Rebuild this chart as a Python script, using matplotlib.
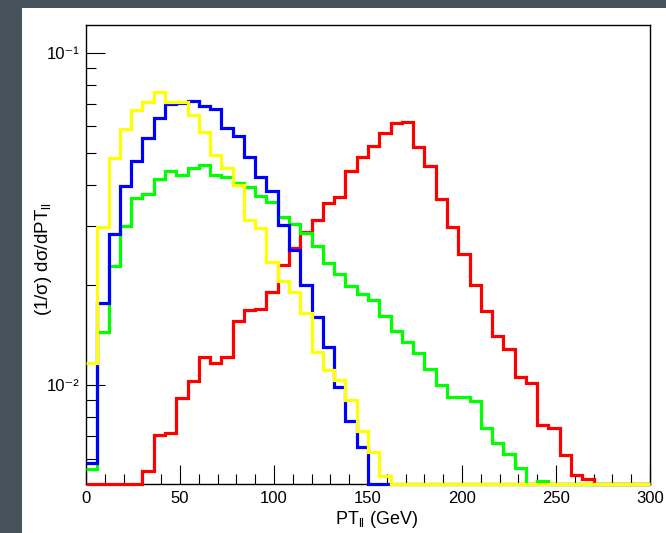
import numpy as np
import matplotlib
matplotlib.use("Agg")
import matplotlib.pyplot as plt
from matplotlib.patches import Rectangle
from matplotlib.ticker import LogLocator, MultipleLocator, NullFormatter

# binning: 50 bins of 6 GeV from 0 to 300
edges = np.linspace(0, 300, 51)

# normalised PT_ll distributions, one value per bin
red = [0, 0, 0, 0, 0, 0.00552, 0.00707, 0.00716, 0.00912, 0.01028,
       0.01212, 0.01167, 0.01212, 0.01561, 0.01681, 0.01693, 0.01906, 0.02297, 0.02584, 0.02892,
       0.03137, 0.03522, 0.03687, 0.04406, 0.04844, 0.05214, 0.05721, 0.06133, 0.06159, 0.05193,
       0.04560, 0.03620, 0.02995, 0.02479, 0.02000, 0.01673, 0.01405, 0.01283, 0.01059, 0.01012,
       0.00758, 0.00741, 0.00615, 0.00536, 0.00520, 0, 0, 0, 0, 0]
green = [0.00559, 0.01446, 0.0228, 0.0301, 0.0364, 0.0376, 0.0416, 0.0441, 0.0429, 0.0449,
         0.0459, 0.0429, 0.0422, 0.0406, 0.0394, 0.0371, 0.0356, 0.0321, 0.0305, 0.0286,
         0.0261, 0.0233, 0.0216, 0.0198, 0.0187, 0.0180, 0.01613, 0.01457, 0.01350, 0.01245,
         0.01115, 0.0100, 0.00922, 0.00916, 0.00891, 0.00741, 0.00668, 0.00620, 0.00562, 0,
         0.00512, 0, 0, 0, 0, 0, 0, 0, 0, 0]
blue = [0.00582, 0.01762, 0.02847, 0.03953, 0.0473, 0.0553, 0.0635, 0.0699, 0.0707, 0.0717,
        0.0691, 0.0676, 0.0592, 0.0559, 0.0486, 0.0423, 0.0382, 0.0303, 0.0255, 0.0200,
        0.01605, 0.01304, 0.00988, 0.00776, 0.00652, 0, 0, 0, 0, 0,
        0, 0, 0, 0, 0, 0, 0, 0, 0, 0,
        0, 0, 0, 0, 0, 0, 0, 0, 0, 0]
yellow = [0.01162, 0.02995, 0.0483, 0.0588, 0.0672, 0.0709, 0.0758, 0.0712, 0.0710, 0.0650,
          0.0578, 0.0492, 0.0449, 0.0400, 0.0314, 0.0296, 0.0235, 0.0205, 0.0190, 0.01644,
          0.01259, 0.01109, 0.01035, 0.00901, 0.00724, 0.00630, 0.00530, 0, 0, 0,
          0, 0, 0, 0, 0, 0, 0, 0, 0, 0,
          0, 0, 0, 0, 0, 0, 0, 0, 0, 0]

series = [(red, "#ff0000"), (green, "#00ff00"), (blue, "#0000ff"), (yellow, "#ffff00")]

ymin, ymax = 0.00503, 0.121

plt.rcParams["font.family"] = ["Liberation Sans Narrow", "Liberation Sans", "DejaVu Sans"]
plt.rcParams["mathtext.fontset"] = "custom"
plt.rcParams["mathtext.rm"] = "Liberation Sans"
plt.rcParams["mathtext.it"] = "Liberation Sans:italic"
plt.rcParams["mathtext.bf"] = "Liberation Sans:bold"

fig = plt.figure(figsize=(6.66, 5.33), dpi=100)
fig.patch.set_facecolor("#47535a")
# white canvas inside the dark frame
fig.patches.append(Rectangle((22 / 666, 0), 1, 1 - 8 / 533, transform=fig.transFigure,
                             facecolor="white", edgecolor="none", zorder=-10))

ax = fig.add_axes([86 / 666, 1 - 484 / 533, (650 - 86) / 666, (484 - 25) / 533])
ax.set_zorder(1)

for vals, col in series:
    # empty bins sit on the lower edge of the frame
    v = np.maximum(np.array(vals, dtype=float), ymin)
    ax.stairs(v, edges, baseline=None, color=col, linewidth=2.3, clip_on=False, zorder=3)

ax.set_yscale("log")
ax.set_xlim(0, 300)
ax.set_ylim(ymin, ymax)

ax.xaxis.set_major_locator(MultipleLocator(50))
ax.xaxis.set_minor_locator(MultipleLocator(10))
ax.yaxis.set_minor_locator(LogLocator(base=10, subs=np.arange(2, 10)))
ax.yaxis.set_minor_formatter(NullFormatter())
ax.set_yticks([0.01, 0.1])
ax.set_yticklabels(["10⁻²", "10⁻¹"], family=["Liberation Sans", "DejaVu Sans"])

ax.tick_params(axis="both", which="both", direction="in", top=False, right=False,
               labelsize=12, width=0.8, color="black")
ax.tick_params(axis="both", which="major", length=14, pad=5)
ax.tick_params(axis="both", which="minor", length=7)

for s in ax.spines.values():
    s.set_linewidth(1.0)
    s.set_color("black")

ax.set_xlabel(r"PT$_{\mathrm{ll}}$ (GeV)", fontsize=13)
ax.xaxis.set_label_coords(0.516, -0.055)
ax.set_ylabel(r"(1/σ) dσ/dPT$_{\mathrm{ll}}$", fontsize=13.5)
ax.yaxis.set_label_coords(-0.057, 0.49)

fig.savefig("out.png", dpi=100, facecolor=fig.get_facecolor())
